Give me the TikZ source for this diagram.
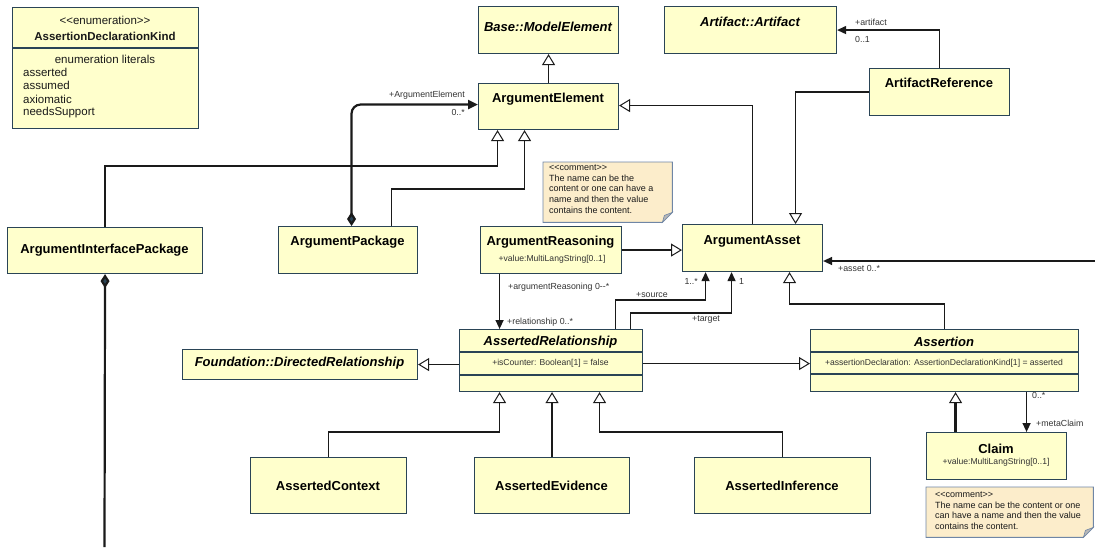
\documentclass[tikz,border=0pt]{standalone}
\usepackage{fontspec}
\setmainfont{Liberation Sans}[Ligatures=TeXOff]
\usetikzlibrary{arrows.meta,calc}
\definecolor{boxfill}{HTML}{FFFFCC}
\definecolor{boxline}{HTML}{2A4456}
\definecolor{linec}{HTML}{1A1A1A}
\definecolor{notefill}{HTML}{FCEDCB}
\definecolor{noteline}{HTML}{6F86A6}
\definecolor{foldc}{HTML}{B8B8B8}
\definecolor{lblc}{HTML}{333333}
\newcommand\ubox[5]{%
  \pgfmathsetmacro\myBW{#4-#2}\pgfmathsetmacro\myBH{#5-#3}%
  \node[box, anchor=north west, minimum width=\myBW pt, minimum height=\myBH pt] (#1) at (#2,#3) {};}
\newcommand\unote[5]{%
  \pgfmathsetmacro\myBW{#4-#2}\pgfmathsetmacro\myBH{#5-#3}%
  \node[anchor=north west, inner sep=0, minimum width=\myBW pt, minimum height=\myBH pt] (#1) at (#2,#3) {};
  \filldraw[fill=notefill, draw=noteline, line width=0.9pt] (#1.north west) -- (#1.north east) -- ([yshift=10pt]#1.south east) -- ([xshift=-10pt]#1.south east) -- (#1.south west) -- cycle;
  \filldraw[fill=foldc, draw=noteline, line width=0.6pt] ([yshift=10pt]#1.south east) -- ([xshift=-10pt]#1.south east) -- ([xshift=-8pt,yshift=7pt]#1.south east) -- cycle;}
\tikzset{
  box/.style={draw=boxline, fill=boxfill, line width=1.1pt, rectangle, inner sep=0pt},
  divider/.style={draw=boxline, line width=1.1pt},
  ttl/.style={font=\fontsize{13}{15}\selectfont\bfseries, inner sep=0pt},
  ittl/.style={font=\fontsize{13}{15}\selectfont\bfseries\itshape, inner sep=0pt},
  attr/.style={font=\fontsize{8.6}{10}\selectfont, inner sep=0pt, text=lblc},
  lbl/.style={font=\fontsize{8.8}{10}\selectfont, inner sep=0pt, text=lblc},
  enumt/.style={font=\fontsize{11.5}{13}\selectfont, inner sep=0pt, text=linec},
  notet/.style={font=\fontsize{9}{10.7}\selectfont, inner sep=0pt, align=left, text=linec},
  gen/.style={draw=linec, line width=1.4pt, -{Triangle[length=11pt, width=13pt, fill=white, line width=1pt]}},
  assoc/.style={draw=linec, line width=1.4pt, -{Triangle[length=9pt, width=8pt]}},
  comp/.style={draw=linec, line width=2.2pt},
}
\begin{document}
\begin{tikzpicture}[x=1pt,y=-1pt]
\useasboundingbox (0,0) rectangle (1095,547);
% ---------- boxes ----------
\ubox{enum}{12}{7}{198}{128}
\draw[divider] (enum.west |- 0,48) -- (enum.east |- 0,48);
\node[enumt] (enum-s) at (105,20) {<<enumeration>>};
\node[enumt, font=\fontsize{11.5}{13}\selectfont\bfseries] (enum-t) at (105,36) {AssertionDeclarationKind};
\node[enumt] (enum-h) at (105,59) {enumeration literals};
\node[enumt, anchor=west] (lit1) at (23,72) {asserted};
\node[enumt, anchor=west] (lit2) at (23,85.5) {assumed};
\node[enumt, anchor=west] (lit3) at (23,99) {axiomatic};
\node[enumt, anchor=west] (lit4) at (23,112.5) {needsSupport};

\ubox{base}{478}{6}{618}{53}
\node[ittl] (base-t) at (548,27) {Base::ModelElement};
\ubox{artifact}{664}{6}{836}{53}
\node[ittl] (artifact-t) at (750,22) {Artifact::Artifact};
\ubox{artref}{869}{68}{1009}{115}
\node[ttl] (artref-t) at (939,83) {ArtifactReference};
\ubox{ae}{478}{83}{618}{129}
\node[ttl] (ae-t) at (548,99) {ArgumentElement};
\ubox{aip}{7}{227}{202}{273}
\node[ttl] (aip-t) at (104.5,250) {ArgumentInterfacePackage};
\ubox{ap}{278}{226}{417}{273}
\node[ttl] (ap-t) at (347.5,242) {ArgumentPackage};
\ubox{areas}{480}{226}{621}{273}
\node[ttl] (areas-t) at (550.5,242) {ArgumentReasoning};
\node[attr] (areas-a) at (552,259) {+value:MultiLangString[0..1]};
\ubox{aasset}{682}{224}{822}{271}
\node[ttl] (aasset-t) at (752,241) {ArgumentAsset};
\ubox{ar}{459}{329}{642}{391}
\draw[divider] (ar.west |- 0,352) -- (ar.east |- 0,352);
\draw[divider] (ar.west |- 0,375) -- (ar.east |- 0,375);
\node[ittl] (ar-t) at (550.5,342) {AssertedRelationship};
\node[attr] (ar-a) at (550.5,363) {+isCounter: Boolean[1] = false};
\ubox{assertion}{810}{329}{1078}{391}
\draw[divider] (assertion.west |- 0,352) -- (assertion.east |- 0,352);
\draw[divider] (assertion.west |- 0,374) -- (assertion.east |- 0,374);
\node[ittl] (assertion-t) at (944,342) {Assertion};
\node[attr] (assertion-a) at (944,363) {+assertionDeclaration: AssertionDeclarationKind[1] = asserted};
\ubox{fdr}{182}{349}{417}{379}
\node[ittl] (fdr-t) at (299.5,363.5) {Foundation::DirectedRelationship};
\ubox{actx}{250}{457}{406}{513}
\node[ttl] (actx-t) at (328,486) {AssertedContext};
\ubox{aevid}{474}{457}{629}{513}
\node[ttl] (aevid-t) at (551.5,486) {AssertedEvidence};
\ubox{ainf}{694}{457}{870}{513}
\node[ttl] (ainf-t) at (782,486) {AssertedInference};
\ubox{claim}{926}{432}{1066}{479}
\node[ttl] (claim-t) at (996,449) {Claim};
\node[attr] (claim-a) at (996,462.5) {+value:MultiLangString[0..1]};

% ---------- notes ----------
\unote{note1}{543}{162}{672}{222}
\node[notet, anchor=north west] (note1-t) at (549,164.5) {<<comment>>\\The name can be the\\content or one can have a\\name and then the value\\contains the content.};
\unote{note2}{926}{487}{1093}{537}
\node[notet, anchor=north west] (note2-t) at (935,491.5) {<<comment>>\\The name can be the content or one\\can have a name and then the value\\contains the content.};

% ---------- connectors ----------
\draw[gen] (ae.north) -- (base.south);
\draw[assoc] (artref.north) |- (artifact.east);
\node[lbl, anchor=west] (l-art) at (855,22) {+artifact};
\node[lbl, anchor=west] (l-art2) at (855,39) {0..1};
\draw[gen] (artref.west) -| ([xshift=43pt]aasset.north);
\draw[gen] (aasset.north) |- ([yshift=1pt]ae.east);
\draw[gen] (aip.north) -- ++(0,-61) -| ([xshift=-51pt]ae.south);
\draw[gen] ([xshift=43.5pt]ap.north) -- ++(0,-37) -| ([xshift=-24pt]ae.south);
\draw[comp, rounded corners=9pt, {Diamond[length=14pt,width=9pt,fill=boxline]}-{Triangle[length=10pt,width=9pt]}] ([xshift=3.5pt]ap.north) |- ([yshift=2pt]ae.west);
\node[lbl, anchor=east] (l-ae1) at (465,95) {+ArgumentElement};
\node[lbl, anchor=east] (l-ae2) at (465,112) {0..*};
\coordinate (aipend) at (104.5,547);
\draw[comp, {Diamond[length=14pt,width=9pt,fill=boxline]}-] (aip.south) -- (aipend);
\draw[gen] (areas.east) -- (areas.east -| aasset.west);
\coordinate (assetsrc) at (1095,261);
\draw[assoc] (assetsrc) -- (assetsrc -| aasset.east);
\node[lbl, anchor=west] (l-asset) at (838,268) {+asset 0..*};
\draw[assoc] ([xshift=64.5pt]ar.north) -- ++(0,-29) -| ([xshift=-47pt]aasset.south);
\draw[assoc] ([xshift=79.5pt]ar.north) -- ++(0,-16) -| ([xshift=-21pt]aasset.south);
\node[lbl, anchor=west] (l-src) at (636,295) {+source};
\node[lbl, anchor=east] (l-src2) at (698,281) {1..*};
\node[lbl, anchor=west] (l-tgt) at (692,320) {+target};
\node[lbl, anchor=west] (l-tgt2) at (739,281) {1};
\draw[gen] (assertion.north) -- ++(0,-25) -| ([xshift=37pt]aasset.south);
\draw[assoc] ([xshift=-51.5pt]areas.south) -- ([xshift=-51.5pt]ar.north);
\node[lbl, anchor=west] (l-ar1) at (508,287) {+argumentReasoning 0--*};
\node[lbl, anchor=west] (l-ar2) at (507,322) {+relationship 0..*};
\draw[gen] (fdr.east -| ar.west) -- (fdr.east);
\draw[gen] ([yshift=-3pt]ar.east) -- ([yshift=-3pt]assertion.west);
\draw[gen] (actx.north) -- ++(0,-25) -| ([xshift=-51.5pt]ar.south);
\draw[gen] (aevid.north) -- (aevid.north |- ar.south);
\draw[gen] (ainf.north) -- ++(0,-25) -| ([xshift=48.5pt]ar.south);
\draw[gen, line width=2.2pt] ([xshift=-41pt]claim.north) -- ([xshift=-41pt]claim.north |- assertion.south);
\draw[assoc] ([xshift=30pt]claim.north |- assertion.south) -- ([xshift=30pt]claim.north);
\node[lbl, anchor=west] (l-mc1) at (1032,395) {0..*};
\node[lbl, anchor=west] (l-mc2) at (1036,423) {+metaClaim};
\end{tikzpicture}
\end{document}
